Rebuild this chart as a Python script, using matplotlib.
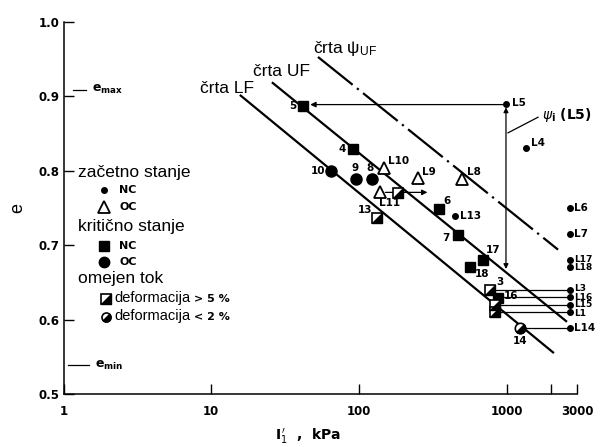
import numpy as np
import matplotlib
matplotlib.use("Agg")
import matplotlib.pyplot as plt
from matplotlib.path import Path
from matplotlib.ticker import NullLocator, FixedLocator, FixedFormatter

plt.rcParams['font.family'] = ['DejaVu Sans']
plt.rcParams['mathtext.fontset'] = 'dejavusans'

# ---------------- data ----------------
# critical state, NC (filled squares)
crit_nc_I = [41.7, 91, 347, 467, 689, 562, 871]
crit_nc_e = [0.887, 0.829, 0.749, 0.714, 0.680, 0.671, 0.629]
crit_nc_lab = ['5', '4', '6', '7', '17', '18', '16']

# critical state, OC (filled circles)
crit_oc_I = [64.8, 95, 122]
crit_oc_e = [0.800, 0.789, 0.789]
crit_oc_lab = ['10', '9', '8']

# limited flow, deformation > 5 % (half-filled squares)
lim5_I = [132, 183, 769, 830, 830]
lim5_e = [0.737, 0.770, 0.640, 0.620, 0.610]
lim5_lab = ['13', '', '3', '', '']

# limited flow, deformation < 2 % (half-filled circle)
lim2_I = [1228]
lim2_e = [0.589]
lim2_lab = ['14']

# initial state, NC (small dots)
init_nc_I = [986, 1346, 445, 2680, 2680, 2680, 2680, 2680, 2680, 2680, 2680, 2680]
init_nc_e = [0.890, 0.831, 0.739, 0.750, 0.715, 0.680, 0.671, 0.640, 0.630, 0.620, 0.610, 0.589]
init_nc_lab = ['L5', 'L4', 'L13', 'L6', 'L7', 'L17', 'L18', 'L3', 'L16', 'L15', 'L1', 'L14']

# initial state, OC (open triangles)
init_oc_I = [147, 250, 497, 138]
init_oc_e = [0.804, 0.790, 0.789, 0.772]
init_oc_lab = ['L10', 'L9', 'L8', 'L11']

# reference lines
lf_I = [15.6, 2080]
lf_e = [0.902, 0.555]
uf_I = [25.7, 2550]
uf_e = [0.919, 0.597]
psi_I = [52.7, 2220]
psi_e = [0.953, 0.694]

e_max = 0.909
e_min = 0.539

# horizontal links: initial state -> end state
link_from_I = [2680, 2680, 2680, 2680, 2680]
link_to_I = [769, 871, 830, 830, 1228]
link_e = [0.640, 0.630, 0.620, 0.610, 0.589]

# L5 path and L11 shift
l5_I, l5_e = 986, 0.889
l5_crit_I = 41.7
l5_uf_e = 0.668
l11_from_I, l11_to_I, l11_e = 138, 290, 0.771

x_ticks = [1, 10, 100, 1000, 2000, 3000]
x_tick_labels = ['1', '10', '100', '1000', '', '3000']
y_ticks = [0.5, 0.6, 0.7, 0.8, 0.9, 1.0]
y_tick_labels = ['0.5', '0.6', '0.7', '0.8', '0.9', '1.0']

# ---------------- markers ----------------
half_sq = Path([(-1, -1), (1, -1), (1, 1), (-1, -1)],
               [Path.MOVETO, Path.LINETO, Path.LINETO, Path.CLOSEPOLY])
half_circ = Path.wedge(-135, 45)

# ---------------- figure ----------------
W, H = 608, 447
fig = plt.figure(figsize=(W / 100, H / 100), dpi=100)
x0, x1, y0, y1 = 63.5, 577.4, 22, 394
ax = fig.add_axes([x0 / W, 1 - y1 / H, (x1 - x0) / W, (y1 - y0) / H])
ax.set_xscale('log')
ax.set_xlim(1, 3000)
ax.set_ylim(0.5, 1.0)
for s in ['top', 'right']:
    ax.spines[s].set_visible(False)
for s in ['left', 'bottom']:
    ax.spines[s].set_linewidth(1.1)

ax.xaxis.set_major_locator(FixedLocator(x_ticks))
ax.xaxis.set_major_formatter(FixedFormatter(x_tick_labels))
ax.xaxis.set_minor_locator(NullLocator())
ax.set_yticks(y_ticks)
ax.set_yticklabels(y_tick_labels)
ax.tick_params(axis='both', direction='in', length=7, width=1.0, labelsize=8.5)
ax.tick_params(axis='x', pad=8)
ax.tick_params(axis='y', pad=3)
for lbl in ax.get_xticklabels() + ax.get_yticklabels():
    lbl.set_fontweight('bold')

ax.set_ylabel('e', fontsize=13, family='Liberation Sans')
ax.yaxis.set_label_coords(-0.072, 0.5)
ax.set_xlabel(r"$\mathbf{I}_1^{\,\prime}$  ,  kPa", fontsize=10, fontweight='bold')
ax.xaxis.set_label_coords(0.476, -0.088)

# reference lines
ax.plot(lf_I, lf_e, color='black', lw=1.6, solid_capstyle='butt')
ax.plot(uf_I, uf_e, color='black', lw=1.6, solid_capstyle='butt')
ax.plot(psi_I, psi_e, color='black', lw=1.6, linestyle=(0, (20, 2.5, 1, 2.5)))

lab_font = dict(fontsize=12.5, family='Liberation Sans', va='center', ha='left')
ax.text(8.4, 0.911, 'črta LF', **lab_font)
ax.text(19.1, 0.933, 'črta UF', **lab_font)
ax.text(48.7, 0.965, r'črta $\mathregular{\psi_{UF}}$', **lab_font)

# links
ax.hlines(link_e, link_to_I, link_from_I, colors='black', lw=0.9)
# L5 horizontal arrow to critical state 5
ax.annotate('', xy=(l5_crit_I * 1.12, l5_e), xytext=(l5_I, l5_e),
            arrowprops=dict(arrowstyle='-|>', color='black', lw=0.9,
                            mutation_scale=8, shrinkA=0, shrinkB=0))
# L5 vertical psi_i
ax.annotate('', xy=(l5_I, l5_uf_e), xytext=(l5_I, l5_e),
            arrowprops=dict(arrowstyle='<|-|>', color='black', lw=0.9,
                            mutation_scale=7, shrinkA=2, shrinkB=0))
ax.plot([1017, 1624], [0.851, 0.872], color='black', lw=0.9)
ax.text(1726, 0.875, r'$\psi_\mathbf{i}$ (L5)', fontsize=10, fontweight='bold',
        ha='left', va='center')
# L11 shift arrow
ax.annotate('', xy=(l11_to_I, l11_e), xytext=(l11_from_I, l11_e),
            arrowprops=dict(arrowstyle='-|>', color='black', lw=0.9,
                            mutation_scale=8, shrinkA=4, shrinkB=0))

# points
ax.plot(crit_nc_I, crit_nc_e, 's', color='black', ms=7.5, ls='none', zorder=5)
ax.plot(crit_oc_I, crit_oc_e, 'o', color='black', ms=8, ls='none', zorder=5)
ax.plot(lim5_I, lim5_e, 's', mfc='white', mec='black', mew=1.2, ms=6.5, ls='none', zorder=5)
ax.plot(lim5_I, lim5_e, marker=half_sq, color='black', ms=6.5, ls='none', zorder=6)
ax.plot(lim2_I, lim2_e, 'o', mfc='white', mec='black', mew=1.2, ms=7.5, ls='none', zorder=5)
ax.plot(lim2_I, lim2_e, marker=half_circ, color='black', ms=7.5, ls='none', zorder=6)
ax.plot(init_nc_I, init_nc_e, 'o', color='black', ms=4, ls='none', zorder=5)
ax.plot(init_oc_I, init_oc_e, '^', mfc='white', mec='black', mew=1.3, ms=9, ls='none', zorder=5)

# point labels (offsets in pixels)
px = 0.72
lab_kw = dict(textcoords='offset points', fontweight='bold')
def lab(txt, x, y, dx, dy, ha='left', va='center', fs=7.5):
    if txt:
        ax.annotate(txt, (x, y), xytext=(dx * px, dy * px), ha=ha, va=va,
                    fontsize=fs, **lab_kw)

nc_off = {'5': (-7, 0, 'right'), '4': (-7, 0, 'right'), '6': (4, 8, 'left'),
          '7': (-8, -3, 'right'), '17': (3, 10, 'left'), '18': (5, -7, 'left'),
          '16': (6, 2, 'left')}
for t, x, y in zip(crit_nc_lab, crit_nc_I, crit_nc_e):
    dx, dy, ha = nc_off[t]
    lab(t, x, y, dx, dy, ha)
oc_off = {'10': (-6, 0, 'right'), '9': (-1, 11, 'center'), '8': (-2, 11, 'center')}
for t, x, y in zip(crit_oc_lab, crit_oc_I, crit_oc_e):
    dx, dy, ha = oc_off[t]
    lab(t, x, y, dx, dy, ha)
l5_off = {'13': (-5, 8, 'right'), '3': (6, 8, 'left')}
for t, x, y in zip(lim5_lab, lim5_I, lim5_e):
    if t:
        dx, dy, ha = l5_off[t]
        lab(t, x, y, dx, dy, ha)
for t, x, y in zip(lim2_lab, lim2_I, lim2_e):
    lab(t, x, y, 0, -13, 'center')
inc_off = {'L5': (6, 1), 'L4': (5, 5), 'L13': (5, 0), 'L17': (4, 1), 'L18': (4, -1),
           'L3': (4, 1), 'L1': (4, -1)}
tight = {'L17', 'L18', 'L3', 'L16', 'L15', 'L1'}
for t, x, y in zip(init_nc_lab, init_nc_I, init_nc_e):
    dx, dy = inc_off.get(t, (4, 0))
    lab(t, x, y, dx, dy, 'left', fs=6.5 if t in tight else 7.5)
ioc_off = {'L10': (4, 7, 'left'), 'L9': (4, 6, 'left'), 'L8': (5, 7, 'left'),
           'L11': (-1, -11, 'left')}
for t, x, y in zip(init_oc_lab, init_oc_I, init_oc_e):
    dx, dy, ha = ioc_off[t]
    lab(t, x, y, dx, dy, ha)

# e_max / e_min marks
bt = ax.get_yaxis_transform()
ax.plot([0.018, 0.044], [e_max, e_max], color='black', lw=0.9, transform=bt, clip_on=False)
ax.text(0.055, e_max, r'$\mathbf{e}_{\mathbf{max}}$', transform=bt, fontsize=9, va='center')
ax.plot([0.009, 0.05], [e_min, e_min], color='black', lw=0.9, transform=bt, clip_on=False)
ax.text(0.062, e_min, r'$\mathbf{e}_{\mathbf{min}}$', transform=bt, fontsize=9, va='center')

# ---------------- legend (pixel positions) ----------------
def fx(p):
    return p / W
def fy(p):
    return 1 - p / H

big = dict(fontsize=12.5, family='Liberation Sans', va='center')
small = dict(fontsize=8, fontweight='bold', va='center')
fig.text(fx(78), fy(172), 'začetno stanje', **big)
fig.text(fx(78), fy(226), 'kritično stanje', **big)
fig.text(fx(78), fy(279), 'omejen tok', **big)

def lmark(xp, yp, **kw):
    ax.plot([fx(xp)], [fy(yp)], transform=fig.transFigure, clip_on=False, ls='none', **kw)

lmark(104, 190, marker='o', color='black', ms=4)
fig.text(fx(119), fy(190), 'NC', **small)
lmark(104, 207, marker='^', mfc='white', mec='black', mew=1.3, ms=8)
fig.text(fx(119), fy(207), 'OC', **small)
lmark(104, 246, marker='s', color='black', ms=7)
fig.text(fx(119), fy(246), 'NC', **small)
lmark(104, 262, marker='o', color='black', ms=7.5)
fig.text(fx(119), fy(262), 'OC', **small)
lmark(106, 299, marker='s', mfc='white', mec='black', mew=1.2, ms=6.5)
lmark(106, 299, marker=half_sq, color='black', ms=6.5)
fig.text(fx(114), fy(298), 'deformacija', fontsize=10.5, family='Liberation Sans', va='center')
fig.text(fx(194), fy(299), '> 5 %', **small)
lmark(106, 317, marker='o', mfc='white', mec='black', mew=1.2, ms=6.5)
lmark(106, 317, marker=half_circ, color='black', ms=6.5)
fig.text(fx(114), fy(316), 'deformacija', fontsize=10.5, family='Liberation Sans', va='center')
fig.text(fx(194), fy(317), '< 2 %', **small)

fig.savefig('out.png', dpi=100)
